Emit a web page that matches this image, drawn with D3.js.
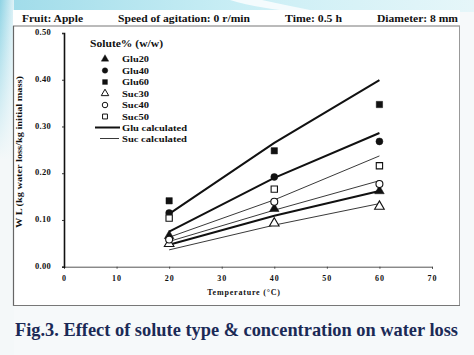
<!DOCTYPE html>
<html><head><meta charset="utf-8">
<script src="https://cdn.jsdelivr.net/npm/d3@7"></script>
<style>body{margin:0;background:#fff}svg{display:block}</style>
</head><body><div id="c"></div>
<script>
const temps = [20, 40, 60];
const glu20 = [0.066, 0.124, 0.162];
const glu40 = [0.115, 0.192, 0.268];
const glu60 = [0.141, 0.248, 0.347];
const suc30 = [0.049, 0.093, 0.129];
const suc40 = [0.058, 0.139, 0.177];
const suc50 = [0.104, 0.166, 0.216];
const gluCalc20 = [0.047, 0.109, 0.162];
const gluCalc40 = [0.075, 0.190, 0.286];
const gluCalc60 = [0.113, 0.265, 0.399];
const sucCalc30 = [0.036, 0.089, 0.135];
const sucCalc40 = [0.054, 0.121, 0.184];
const sucCalc50 = [0.063, 0.143, 0.237];
const xTicks = [0, 10, 20, 30, 40, 50, 60, 70];
const yTicks = [0, 0.1, 0.2, 0.3, 0.4, 0.5];
const headerTexts = ["Fruit: Apple", "Speed of agitation: 0 r/min", "Time: 0.5 h", "Diameter: 8 mm"];
const legendNames = ["Glu20", "Glu40", "Glu60", "Suc30", "Suc40", "Suc50"];
const caption = "Fig.3. Effect of solute type & concentration on water loss";

const W = 474, H = 355;
const svg = d3.select("#c").append("svg").attr("width", W).attr("height", H);
const defs = svg.append("defs");
const lg = defs.append("linearGradient").attr("id", "lg").attr("x1", 0).attr("x2", 1).attr("y1", 0).attr("y2", 0);
lg.append("stop").attr("offset", 0).attr("stop-color", "#8fd3e4");
lg.append("stop").attr("offset", 1).attr("stop-color", "#dff2f7");
const tg = defs.append("linearGradient").attr("id", "tg").attr("x1", 0).attr("x2", 1).attr("y1", 0).attr("y2", 0);
tg.append("stop").attr("offset", 0).attr("stop-color", "#9fdbe9");
tg.append("stop").attr("offset", 0.5).attr("stop-color", "#c9eef5");
tg.append("stop").attr("offset", 1).attr("stop-color", "#e6f6f9");
const vg = defs.append("linearGradient").attr("id", "vg").attr("x1", 0).attr("x2", 0).attr("y1", 0).attr("y2", 1);
vg.append("stop").attr("offset", 0).attr("stop-color", "#ffffff").attr("stop-opacity", 0);
vg.append("stop").attr("offset", 0.45).attr("stop-color", "#f4f8f9").attr("stop-opacity", 1);

// background
svg.append("rect").attr("width", W).attr("height", H).attr("fill", "#f6f9fa");
svg.append("rect").attr("width", W).attr("height", 12).attr("fill", "url(#tg)");
svg.append("rect").attr("width", 14).attr("height", H).attr("fill", "url(#lg)");
svg.append("rect").attr("width", 14).attr("height", H).attr("fill", "url(#vg)");
svg.append("path").attr("d", "M230,0 C250,6 275,10 300,12 L320,12 C300,8 280,4 262,0 Z").attr("fill", "#f4fbfd");

// panel
svg.append("rect").attr("x", 13).attr("y", 10).attr("width", 447).attr("height", 296).attr("fill", "#ffffff");
svg.append("line").attr("x1", 13).attr("x2", 460).attr("y1", 26).attr("y2", 26).attr("stroke", "#777").attr("stroke-width", 1);
svg.append("line").attr("x1", 13.5).attr("x2", 13.5).attr("y1", 26).attr("y2", 306).attr("stroke", "#666").attr("stroke-width", 1.2);
svg.append("line").attr("x1", 459.5).attr("x2", 459.5).attr("y1", 26).attr("y2", 306).attr("stroke", "#999").attr("stroke-width", 1);
svg.append("line").attr("x1", 13).attr("x2", 460).attr("y1", 305.5).attr("y2", 305.5).attr("stroke", "#777").attr("stroke-width", 1);

// header
const hx = [22, 118, 285, 377], hw = [61, 132, 57, 81];
svg.selectAll("text.h").data(headerTexts).join("text").attr("class", "h")
  .attr("x", (d, i) => hx[i]).attr("y", 22)
  .attr("textLength", (d, i) => hw[i]).attr("lengthAdjust", "spacingAndGlyphs")
  .attr("font-family", "Liberation Serif, Times New Roman, serif").attr("font-weight", "bold").attr("font-size", 11)
  .attr("fill", "#111").text(d => d);

// scales
const x = d3.scaleLinear().domain([0, 70]).range([64, 432]);
const y = d3.scaleLinear().domain([0, 0.5]).range([266.7, 33]);

const fontTick = "Liberation Serif, Times New Roman, serif";
const xAxis = svg.append("g").attr("transform", `translate(0,${y(0)})`)
  .call(d3.axisBottom(x).tickValues(xTicks).tickSize(2).tickFormat(d3.format("d")));
xAxis.select(".domain").attr("stroke", "#555").attr("stroke-width", 1);
xAxis.selectAll(".tick line").attr("stroke", "#444");
xAxis.selectAll("text").attr("font-family", fontTick).attr("font-weight", "bold").attr("font-size", 8)
  .attr("letter-spacing", 1).attr("dy", 0).attr("y", 14).attr("fill", "#111");

const yAxis = svg.append("g").attr("transform", `translate(${x(0)},0)`)
  .call(d3.axisLeft(y).tickValues(yTicks).tickSize(2).tickFormat(d3.format(".2f")));
yAxis.select(".domain").attr("stroke", "#111").attr("stroke-width", 1.6);
yAxis.selectAll(".tick line").attr("stroke", "#333");
yAxis.selectAll("text").attr("font-family", fontTick).attr("font-weight", "bold").attr("font-size", 8.5)
  .attr("letter-spacing", 0.3).attr("x", -13).attr("dy", "0.2em").attr("fill", "#111");

// axis titles
svg.append("text").attr("x", x(35) - 4).attr("y", 295).attr("text-anchor", "middle")
  .attr("font-family", fontTick).attr("font-weight", "bold").attr("font-size", 8).attr("letter-spacing", 0.8)
  .attr("fill", "#111").text("Temperature (°C)");
svg.append("text").attr("transform", "translate(22,152) rotate(-90)").attr("text-anchor", "middle")
  .attr("textLength", 152).attr("lengthAdjust", "spacingAndGlyphs")
  .attr("font-family", fontTick).attr("font-weight", "bold").attr("font-size", 8)
  .attr("fill", "#111").text("W L (kg water loss/kg initial mass)");

// calculated lines
const line = d3.line().x((d, i) => x(temps[i])).y(d => y(d));
[gluCalc20, gluCalc40, gluCalc60].forEach(s => {
  svg.append("path").attr("d", line(s)).attr("fill", "none").attr("stroke", "#111").attr("stroke-width", 2);
});
[sucCalc30, sucCalc40, sucCalc50].forEach(s => {
  svg.append("path").attr("d", line(s)).attr("fill", "none").attr("stroke", "#222").attr("stroke-width", 0.9);
});

// markers
const series = [
  {v: glu20, t: d3.symbolTriangle, f: true},
  {v: glu40, t: d3.symbolCircle, f: true},
  {v: glu60, t: d3.symbolSquare, f: true},
  {v: suc30, t: d3.symbolTriangle, f: false},
  {v: suc40, t: d3.symbolCircle, f: false},
  {v: suc50, t: d3.symbolSquare, f: false}
];
const sizeOf = t => t === d3.symbolCircle ? 38 : (t === d3.symbolSquare ? 40 : 40);
series.forEach(s => {
  svg.append("g").selectAll("path").data(s.v).join("path")
    .attr("transform", (d, i) => `translate(${x(temps[i])},${y(d)})`)
    .attr("d", d3.symbol().type(s.t).size(sizeOf(s.t)))
    .attr("fill", s.f ? "#111" : "#fff").attr("stroke", "#111").attr("stroke-width", s.f ? 0.5 : 1.1);
});

// legend
svg.append("text").attr("x", 90).attr("y", 47).attr("textLength", 73).attr("lengthAdjust", "spacingAndGlyphs")
  .attr("font-family", "Liberation Serif, Times New Roman, serif").attr("font-weight", "bold").attr("font-size", 10.5)
  .attr("fill", "#111").text("Solute% (w/w)");
const ly = [59, 70.5, 82, 93.5, 105, 116.5];
series.forEach((s, i) => {
  svg.append("path").attr("transform", `translate(105,${ly[i]})`)
    .attr("d", d3.symbol().type(s.t).size(24))
    .attr("fill", s.f ? "#111" : "#fff").attr("stroke", "#111").attr("stroke-width", s.f ? 0.4 : 1);
  svg.append("text").attr("x", 122).attr("y", ly[i] + 3).attr("textLength", 27).attr("lengthAdjust", "spacingAndGlyphs")
    .attr("font-family", fontTick).attr("font-weight", "bold").attr("font-size", 8.5)
    .attr("fill", "#111").text(legendNames[i]);
});
svg.append("line").attr("x1", 95).attr("x2", 120).attr("y1", 127.5).attr("y2", 127.5).attr("stroke", "#111").attr("stroke-width", 2);
svg.append("text").attr("x", 122).attr("y", 130.5).attr("textLength", 65).attr("lengthAdjust", "spacingAndGlyphs")
  .attr("font-family", fontTick).attr("font-weight", "bold").attr("font-size", 8.5).attr("fill", "#111").text("Glu calculated");
svg.append("line").attr("x1", 100).attr("x2", 119).attr("y1", 138.5).attr("y2", 138.5).attr("stroke", "#222").attr("stroke-width", 0.9);
svg.append("text").attr("x", 122).attr("y", 141.5).attr("textLength", 65).attr("lengthAdjust", "spacingAndGlyphs")
  .attr("font-family", fontTick).attr("font-weight", "bold").attr("font-size", 8.5).attr("fill", "#111").text("Suc calculated");

// caption
svg.append("text").attr("x", 15).attr("y", 336).attr("textLength", 443).attr("lengthAdjust", "spacingAndGlyphs")
  .attr("font-family", "Liberation Serif, Times New Roman, serif").attr("font-weight", "bold").attr("font-size", 19)
  .attr("fill", "#1b2a56").text(caption);
</script></body></html>
